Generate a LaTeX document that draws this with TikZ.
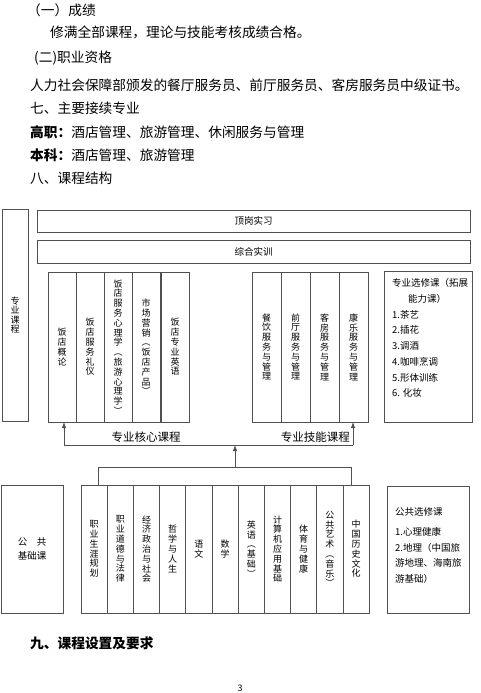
\documentclass[tikz,border=0pt]{standalone}
\usepackage{fontspec}
\setmainfont{Noto Sans CJK SC}
\usetikzlibrary{arrows.meta, positioning}
\definecolor{frame}{HTML}{505050}

% stack the characters of a course name one below the other
\newcommand\vtext[1]{\vtextfirst#1\relax}
\def\vtextfirst#1{#1\vtextrest}
\def\vtextrest#1{\ifx\relax#1\else\\#1\expandafter\vtextrest\fi}

\begin{document}
\begin{tikzpicture}[x=1pt, y=-1pt, >={Latex[length=6pt, width=4.5pt]},
    box/.style={draw=frame, line width=0.8pt, inner sep=0pt, outer sep=0pt},
    course/.style={box, minimum height=150pt, align=center, font=\fontsize{9}{9.8}\selectfont},
    general/.style={box, minimum width=26.2pt, minimum height=128pt, align=center, font=\fontsize{9}{9.8}\selectfont},
    bar/.style={box, minimum width=433pt, font=\fontsize{9.5}{10}\selectfont},
    listtext/.style={align=left, inner sep=0pt, font=\fontsize{9.5}{15.7}\selectfont},
    lab/.style={inner sep=0pt, font=\fontsize{11.5}{12}\selectfont},
    body/.style={anchor=west, inner sep=0pt, font=\fontsize{13.7}{14}\selectfont},
    link/.style={draw=frame, line width=0.8pt}]

    \useasboundingbox[fill=white] (0,0) rectangle (480,693);

    % Text above the chart
    \node[body] (grade) at (27,10) {（一）成绩};
    \node[body] (gradereq) at (50,32) {修满全部课程，理论与技能考核成绩合格。};
    \node[body] (cert) at (34,58) {(二)职业资格};
    \node[body] (certreq) at (30,85) {人力社会保障部颁发的餐厅服务员、前厅服务员、客房服务员中级证书。};
    \node[body] (further) at (30,108) {七、主要接续专业};
    \node[body] (college) at (30,132) {\textbf{高职：}酒店管理、旅游管理、休闲服务与管理};
    \node[body] (bachelor) at (30,155) {\textbf{本科：}酒店管理、旅游管理};
    \node[body] (struct) at (30,178) {八、课程结构};

    % Professional courses
    \node[box, minimum width=26pt, minimum height=212pt, align=center, font=\fontsize{9}{9.2}\selectfont, anchor=north west] (major) at (2,209) {\vtext{专业课程}};
    \node[bar, minimum height=22pt, anchor=north west] (intern) at (37,210) {顶岗实习};
    \node[bar, minimum height=23pt, below=8pt of intern] (train) {综合实训};

    \node[course, minimum width=28pt, anchor=north west] (core1) at (48,272) {\vtext{饭店概论}};
    \node[course, minimum width=28pt, right=0pt of core1] (core2) {\vtext{饭店服务礼仪}};
    \node[course, minimum width=28pt, right=0pt of core2] (core3) {\vtext{饭店服务心理学︵旅游心理学︶}};
    \node[course, minimum width=28pt, right=0pt of core3] (core4) {\vtext{市场营销︵饭店产品︶}};
    \node[course, minimum width=28pt, right=1pt of core4] (core5) {\vtext{饭店专业英语}};

    \node[course, minimum width=29pt, anchor=north west] (skill1) at (252,272) {\vtext{餐饮服务与管理}};
    \node[course, minimum width=29pt, right=0pt of skill1] (skill2) {\vtext{前厅服务与管理}};
    \node[course, minimum width=29pt, right=0pt of skill2] (skill3) {\vtext{客房服务与管理}};
    \node[course, minimum width=29pt, right=0pt of skill3] (skill4) {\vtext{康乐服务与管理}};

    \node[box, minimum width=88pt, minimum height=151pt, anchor=north west] (optA) at (384,271) {};
    \node[listtext, anchor=north west] (optAtext) at ([xshift=8pt, yshift=-7.5pt]optA.north west)
        {专业选修课（拓展\\\hspace*{16pt}能力课）\\1.茶艺\\2.插花\\3.调酒\\4.咖啡烹调\\5.形体训练\\6. 化妆};

    % Public courses
    \node[box, minimum width=62pt, minimum height=128pt, align=center, font=\fontsize{9.5}{14}\selectfont, anchor=north west] (pubbase) at (1,485) {公　共\\基础课};

    \node[general, anchor=north west] (gen1) at (81,485) {\vtext{职业生涯规划}};
    \node[general, right=0pt of gen1] (gen2) {\vtext{职业道德与法律}};
    \node[general, right=0pt of gen2] (gen3) {\vtext{经济政治与社会}};
    \node[general, right=0pt of gen3] (gen4) {\vtext{哲学与人生}};
    \node[general, right=0pt of gen4] (gen5) {\vtext{语文}};
    \node[general, right=0pt of gen5] (gen6) {\vtext{数学}};
    \node[general, right=0pt of gen6] (gen7) {\vtext{英语︵基础︶}};
    \node[general, right=0pt of gen7] (gen8) {\vtext{计算机应用基础}};
    \node[general, right=0pt of gen8] (gen9) {\vtext{体育与健康}};
    \node[general, right=0pt of gen9] (gen10) {\vtext{公共艺术︵音乐︶}};
    \node[general, right=0pt of gen10] (gen11) {\vtext{中国历史文化}};

    \node[box, minimum width=82pt, minimum height=127pt, anchor=north west] (optB) at (387,486) {};
    \node[listtext, anchor=north west] (optBtext) at ([xshift=8pt, yshift=-21.5pt]optB.north west)
        {公共选修课\\[4pt]1.心理健康\\2.地理（中国旅\\游地理、海南旅\\游基础）};

    % Connectors
    \coordinate (coreJ) at (64,445);
    \coordinate (skillJ) at (353,445);
    \draw[link] (coreJ) -- (skillJ);
    \draw[link, ->] (coreJ) -- (coreJ |- core1.south);
    \draw[link, ->] (skillJ) -- (skillJ |- skill4.south);

    \coordinate (baseL) at (98,467);
    \coordinate (baseR) at (351,467);
    \coordinate (baseUp) at (235,467);
    \draw[link] (baseL |- gen1.north) -- (baseL) -- (baseR) -- (baseR |- gen11.north);
    \draw[link, ->] (baseUp) -- (baseUp |- coreJ);

    \node[lab] (corelab) at (146,437) {专业核心课程};
    \node[lab, above left=2pt and 3pt of skillJ] (skilllab) {专业技能课程};

    % Text below the chart
    \node[body, font=\bfseries\fontsize{13.7}{14}\selectfont] (setting) at (30,643) {九、课程设置及要求};
    \node[inner sep=0pt, font=\fontsize{9}{10}\selectfont] (page) at (240,688) {3};
\end{tikzpicture}
\end{document}
